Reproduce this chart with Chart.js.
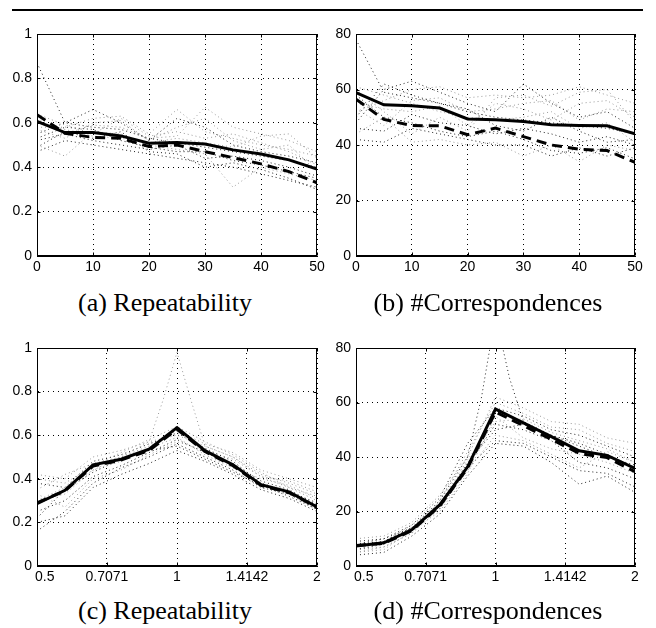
<!DOCTYPE html>
<html>
<head>
<meta charset="utf-8">
<script src="https://cdn.jsdelivr.net/npm/chart.js@4.4.0/dist/chart.umd.min.js"></script>
<style>
  body { margin: 0; background: #fff; }
  #page { position: relative; width: 656px; height: 628px; overflow: hidden; background: #fff; }
  .rule { position: absolute; left: 12px; top: 9px; width: 631px; height: 2px; background: #000; }
  .panel { position: absolute; width: 330px; height: 260px; }
  .caption { position: absolute; width: 330px; text-align: center; color: #000;
             font-family: "Liberation Serif", "Times New Roman", serif; font-size: 26px; line-height: 26px; }
</style>
</head>
<body>
<div id="page">
  <div class="rule"></div>
  <div class="panel" style="left:0;top:20px"><canvas id="chartA" width="330" height="260"></canvas></div>
  <div class="panel" style="left:326px;top:20px"><canvas id="chartB" width="330" height="260"></canvas></div>
  <div class="panel" style="left:0;top:330px"><canvas id="chartC" width="330" height="260"></canvas></div>
  <div class="panel" style="left:326px;top:330px"><canvas id="chartD" width="330" height="260"></canvas></div>
  <div class="caption" style="left:0;top:290px">(a) Repeatability</div>
  <div class="caption" style="left:323px;top:290px">(b) #Correspondences</div>
  <div class="caption" style="left:0;top:598px">(c) Repeatability</div>
  <div class="caption" style="left:323px;top:598px">(d) #Correspondences</div>
</div>
<script>
// top row: viewpoint angle, bottom row: scale factor
const angles = [0, 5, 10, 15, 20, 25, 30, 35, 40, 45, 50];
const scales = [0.5, 0.5743, 0.6598, 0.7579, 0.8706, 1, 1.1487, 1.3195, 1.5157, 1.7411, 2];
const spikeScales = [0.5, 0.5743, 0.6598, 0.7579, 0.8706, 0.933, 1, 1.0718, 1.1487, 1.3195, 1.5157, 1.7411, 2];

const angleTicks = [0, 10, 20, 30, 40, 50];
const angleLabels = ['0', '10', '20', '30', '40', '50'];
const scaleTicks = [0.5, 0.7071, 1, 1.4142, 2];
const scaleLabels = ['    0.5', '0.7071', '1', '1.4142', '2'];
const repTicks = [0, 0.2, 0.4, 0.6, 0.8, 1];
const repLabels = ['0', '0.2', '0.4', '0.6', '0.8', '1'];
const corrTicks = [0, 20, 40, 60, 80];
const corrLabels = ['0', '20', '40', '60', '80'];

// (a) repeatability vs angle
const repAngleSolid = [0.606, 0.556, 0.556, 0.541, 0.508, 0.511, 0.504, 0.478, 0.459, 0.433, 0.391];
const repAngleDashed = [0.636, 0.553, 0.534, 0.53, 0.493, 0.5, 0.47, 0.443, 0.415, 0.38, 0.33];
const repAngleRuns = [
  [0.87, 0.60, 0.58, 0.57, 0.53, 0.51, 0.49, 0.47, 0.45, 0.43, 0.40],
  [0.50, 0.45, 0.56, 0.55, 0.50, 0.48, 0.46, 0.31, 0.40, 0.37, 0.34],
  [0.55, 0.60, 0.66, 0.60, 0.52, 0.62, 0.58, 0.50, 0.47, 0.45, 0.42],
  [0.58, 0.58, 0.62, 0.63, 0.55, 0.66, 0.56, 0.53, 0.50, 0.48, 0.45],
  [0.47, 0.52, 0.50, 0.48, 0.46, 0.44, 0.42, 0.40, 0.37, 0.34, 0.31],
  [0.62, 0.55, 0.59, 0.58, 0.53, 0.54, 0.67, 0.58, 0.55, 0.52, 0.47],
  [0.52, 0.55, 0.52, 0.50, 0.48, 0.50, 0.44, 0.45, 0.43, 0.40, 0.36],
  [0.60, 0.57, 0.54, 0.53, 0.51, 0.53, 0.51, 0.49, 0.54, 0.55, 0.44],
  [0.53, 0.58, 0.57, 0.52, 0.49, 0.47, 0.47, 0.43, 0.41, 0.38, 0.35],
  [0.57, 0.53, 0.60, 0.61, 0.52, 0.58, 0.62, 0.52, 0.48, 0.50, 0.38],
  [0.49, 0.56, 0.53, 0.56, 0.47, 0.46, 0.40, 0.42, 0.39, 0.35, 0.30],
  [0.64, 0.59, 0.55, 0.62, 0.54, 0.56, 0.53, 0.55, 0.51, 0.47, 0.41]
];

// (b) correspondences vs angle
const corrAngleSolid = [58.9, 54.5, 54.1, 53.3, 49.4, 49.1, 48.5, 47.3, 47.0, 46.9, 44.0];
const corrAngleDashed = [56.5, 49.2, 47.0, 46.9, 43.7, 46.1, 43.0, 40.0, 38.5, 38.0, 33.7];
const corrAngleRuns = [
  [78, 59, 57, 55, 52, 50, 49, 48, 47, 46, 44],
  [44, 50, 41, 42, 40, 41, 36, 40, 34, 40, 38],
  [48, 60, 63, 59, 55, 52, 62, 55, 50, 52, 46],
  [52, 56, 60, 61, 57, 58, 57, 58, 61, 58, 55],
  [58, 50, 48, 45, 43, 45, 42, 38, 37, 39, 35],
  [61, 58, 55, 52, 50, 49, 50, 52, 46, 48, 41],
  [46, 45, 51, 48, 47, 44, 46, 44, 41, 43, 40],
  [55, 53, 52, 54, 47, 55, 53, 49, 55, 56, 50],
  [50, 62, 58, 55, 53, 47, 45, 50, 45, 41, 42],
  [60, 52, 44, 50, 45, 57, 58, 54, 59, 60, 48],
  [42, 41, 46, 44, 42, 40, 40, 36, 39, 36, 39],
  [53, 47, 56, 57, 52, 53, 55, 56, 49, 53, 52]
];

// (c) repeatability vs scale
const repScaleSolid = [0.286, 0.347, 0.464, 0.49, 0.536, 0.635, 0.529, 0.464, 0.373, 0.34, 0.271];
const repScaleDashed = [0.29, 0.345, 0.458, 0.486, 0.53, 0.627, 0.525, 0.46, 0.37, 0.336, 0.27];
const repScaleSpike = [0.30, 0.36, 0.44, 0.50, 0.57, 0.76, 0.98, 0.76, 0.55, 0.50, 0.41, 0.36, 0.30];
const repScaleRuns = [
  [0.16, 0.25, 0.38, 0.45, 0.50, 0.56, 0.50, 0.44, 0.36, 0.33, 0.26],
  [0.42, 0.40, 0.50, 0.53, 0.57, 0.60, 0.55, 0.50, 0.42, 0.38, 0.33],
  [0.25, 0.30, 0.41, 0.46, 0.52, 0.58, 0.52, 0.47, 0.39, 0.35, 0.28],
  [0.35, 0.42, 0.47, 0.50, 0.55, 0.62, 0.56, 0.52, 0.44, 0.40, 0.36],
  [0.20, 0.23, 0.36, 0.42, 0.47, 0.53, 0.48, 0.42, 0.35, 0.31, 0.25],
  [0.30, 0.33, 0.44, 0.48, 0.54, 0.59, 0.51, 0.45, 0.40, 0.37, 0.31],
  [0.38, 0.36, 0.48, 0.51, 0.56, 0.61, 0.54, 0.48, 0.38, 0.34, 0.29],
  [0.33, 0.27, 0.40, 0.44, 0.51, 0.57, 0.53, 0.49, 0.41, 0.39, 0.34],
  [0.22, 0.35, 0.43, 0.49, 0.53, 0.55, 0.49, 0.43, 0.37, 0.32, 0.26],
  [0.40, 0.38, 0.46, 0.52, 0.58, 0.64, 0.57, 0.51, 0.43, 0.36, 0.32]
];

// (d) correspondences vs scale
const corrScaleSolid = [7.3, 8.5, 13.3, 22.4, 36.4, 57.6, 52.5, 47.5, 42.3, 40.6, 35.8];
const corrScaleDashed = [7.5, 8.3, 13.0, 22.0, 36.0, 56.5, 51.5, 46.5, 41.3, 39.8, 34.6];
const corrScaleSpike = [6, 8, 14, 24, 40, 62, 92, 69, 53, 48, 44, 40, 37];
const corrScaleRuns = [
  [4, 5, 11, 19, 33, 45, 44, 38, 30, 33, 27],
  [10, 11, 16, 26, 40, 62, 58, 53, 52, 47, 45],
  [8, 9, 14, 23, 37, 52, 50, 46, 38, 36, 32],
  [6, 7, 12, 21, 35, 48, 46, 41, 36, 42, 38],
  [9, 10, 15, 25, 45, 58, 55, 50, 48, 44, 40],
  [5, 6, 13, 20, 34, 55, 47, 43, 41, 38, 34],
  [7, 9, 14, 22, 38, 50, 52, 48, 45, 41, 36],
  [5, 7, 12, 24, 42, 60, 56, 51, 50, 45, 42],
  [8, 10, 14, 21, 36, 46, 45, 40, 35, 34, 29],
  [6, 9, 15, 23, 39, 53, 54, 49, 46, 43, 38]
];

const pts = (xs, ys) => xs.map((x, i) => ({ x: x, y: ys[i] }));

const mainLine = (xs, ys, dashed) => ({
  data: pts(xs, ys),
  borderColor: '#000',
  borderWidth: 3,
  borderDash: dashed ? [10, 6] : [],
  pointRadius: 0,
  tension: 0
});

const runLine = (xs, ys, i) => ({
  data: pts(xs, ys),
  borderColor: i % 2 ? '#999' : '#222',
  borderWidth: 1,
  borderDash: [1, 3],
  pointRadius: 0,
  tension: 0
});

// full box round the plot plus small inward ticks, like the matlab axes
const boxPlugin = {
  id: 'box',
  afterDraw(chart) {
    const { ctx, chartArea: a, scales: s } = chart;
    const l = Math.round(a.left) + 0.5, r = Math.round(a.right) - 0.5;
    const t = Math.round(a.top) + 0.5, b = Math.round(a.bottom) - 0.5;
    ctx.save();
    ctx.strokeStyle = '#000';
    ctx.lineWidth = 1;
    ctx.strokeRect(l, t, r - l, b - t);
    ctx.beginPath();
    s.x.ticks.forEach(tk => {
      const px = Math.round(s.x.getPixelForValue(tk.value)) + 0.5;
      ctx.moveTo(px, b); ctx.lineTo(px, b - 3);
      ctx.moveTo(px, t); ctx.lineTo(px, t + 3);
    });
    s.y.ticks.forEach(tk => {
      const py = Math.round(s.y.getPixelForValue(tk.value)) + 0.5;
      ctx.moveTo(l, py); ctx.lineTo(l + 3, py);
      ctx.moveTo(r, py); ctx.lineTo(r - 3, py);
    });
    ctx.stroke();
    ctx.restore();
  }
};

const tickFont = { family: '"Liberation Sans", Arial, sans-serif', size: 14 };

const makeChart = (id, opt) => new Chart(document.getElementById(id), {
  type: 'line',
  data: { datasets: opt.datasets },
  options: {
    responsive: false,
    animation: false,
    events: [],
    layout: { padding: opt.padding },
    plugins: { legend: { display: false }, tooltip: { enabled: false } },
    scales: {
      x: {
        type: opt.xType,
        min: opt.xTicks[0],
        max: opt.xTicks[opt.xTicks.length - 1],
        afterBuildTicks: ax => { ax.ticks = opt.xTicks.map(v => ({ value: v })); },
        afterFit: ax => { ax.height = 24; },
        ticks: { autoSkip: false, maxRotation: 0, padding: 3, color: '#000', font: tickFont,
                 callback: (v, i) => opt.xLabels[i] },
        grid: { color: '#000', lineWidth: 1, drawTicks: false },
        border: { display: true, color: '#000', width: 1, dash: [1, 4] }
      },
      y: {
        type: 'linear',
        min: opt.yTicks[0],
        max: opt.yTicks[opt.yTicks.length - 1],
        afterBuildTicks: ax => { ax.ticks = opt.yTicks.map(v => ({ value: v })); },
        afterFit: ax => { ax.width = opt.yWidth; },
        ticks: { autoSkip: false, padding: 5, color: '#000', font: tickFont,
                 callback: (v, i) => opt.yLabels[i] },
        grid: { color: '#000', lineWidth: 1, drawTicks: false },
        border: { display: true, color: '#000', width: 1, dash: [1, 4] }
      }
    }
  },
  plugins: [boxPlugin]
});

makeChart('chartA', {
  datasets: [mainLine(angles, repAngleSolid, false), mainLine(angles, repAngleDashed, true)]
    .concat(repAngleRuns.map((r, i) => runLine(angles, r, i))),
  padding: { left: 0, top: 14, right: 13, bottom: 0 },
  yWidth: 37, xType: 'linear',
  xTicks: angleTicks, xLabels: angleLabels, yTicks: repTicks, yLabels: repLabels
});

makeChart('chartB', {
  datasets: [mainLine(angles, corrAngleSolid, false), mainLine(angles, corrAngleDashed, true)]
    .concat(corrAngleRuns.map((r, i) => runLine(angles, r, i))),
  padding: { left: 0, top: 14, right: 21, bottom: 0 },
  yWidth: 30, xType: 'linear',
  xTicks: angleTicks, xLabels: angleLabels, yTicks: corrTicks, yLabels: corrLabels
});

makeChart('chartC', {
  datasets: [mainLine(scales, repScaleSolid, false), mainLine(scales, repScaleDashed, true),
             runLine(spikeScales, repScaleSpike, 1)]
    .concat(repScaleRuns.map((r, i) => runLine(scales, r, i))),
  padding: { left: 0, top: 18, right: 13, bottom: 0 },
  yWidth: 37, xType: 'logarithmic',
  xTicks: scaleTicks, xLabels: scaleLabels, yTicks: repTicks, yLabels: repLabels
});

makeChart('chartD', {
  datasets: [mainLine(scales, corrScaleSolid, false), mainLine(scales, corrScaleDashed, true),
             runLine(spikeScales, corrScaleSpike, 0)]
    .concat(corrScaleRuns.map((r, i) => runLine(scales, r, i))),
  padding: { left: 0, top: 18, right: 21, bottom: 0 },
  yWidth: 30, xType: 'logarithmic',
  xTicks: scaleTicks, xLabels: scaleLabels, yTicks: corrTicks, yLabels: corrLabels
});
</script>
</body>
</html>
